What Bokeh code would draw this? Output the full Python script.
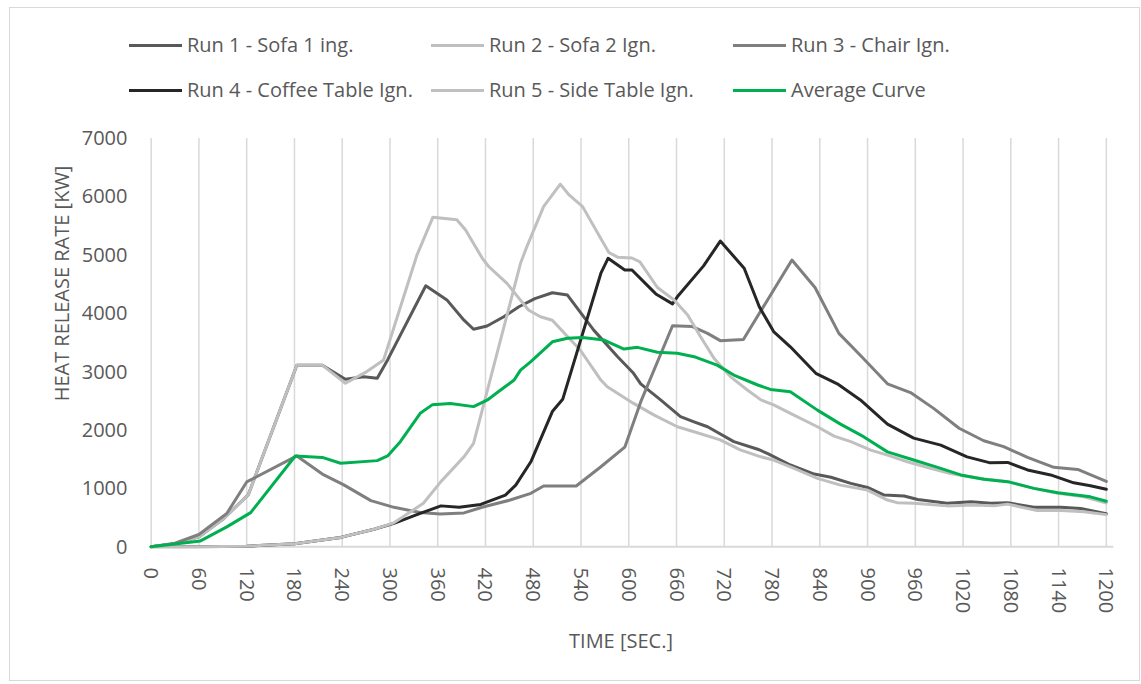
from bokeh.plotting import figure
from bokeh.models import Range1d, FixedTicker, Legend, LegendItem
from bokeh.embed import file_html
from bokeh.resources import INLINE

# ---- data (time [s], heat release rate [kW]) ----
R1_T = [0, 30, 60, 90, 122, 183, 215, 244, 267, 284, 297, 345, 372, 393, 405, 422, 443, 462, 482, 504,
        523, 556, 586, 606, 615, 640, 665, 682, 699, 732, 762, 774, 803, 833, 854, 879, 900, 921, 946, 963,
        1000, 1030, 1055, 1076, 1109, 1143, 1168, 1200]
R1_V = [0, 50, 170, 470, 890, 3110, 3110, 2870, 2910, 2885, 3200, 4470, 4220, 3880, 3725, 3780, 3940, 4110, 4250, 4350,
        4310, 3710, 3255, 2970, 2790, 2515, 2230, 2140, 2055, 1800, 1670, 1600, 1400, 1245, 1190, 1085, 1015, 885, 870, 810,
        745, 770, 745, 755, 675, 675, 655, 565]

R2_T = [0, 30, 60, 90, 122, 183, 215, 244, 271, 292, 334, 354, 384, 395, 416, 424, 447, 474, 489, 504,
        523, 539, 565, 573, 606, 632, 661, 682, 715, 740, 753, 766, 782, 807, 837, 866, 900, 925, 937, 958,
        1000, 1034, 1059, 1076, 1113, 1143, 1172, 1200]
R2_V = [0, 50, 170, 470, 890, 3110, 3110, 2800, 3000, 3200, 5000, 5645, 5600, 5425, 4940, 4800, 4510, 4055, 3940, 3880,
        3600, 3370, 2855, 2740, 2455, 2255, 2055, 1970, 1830, 1660, 1600, 1540, 1485, 1345, 1170, 1055, 970, 800, 755, 745,
        700, 715, 700, 730, 620, 620, 600, 550]

R3_T = [0, 30, 60, 95, 120, 183, 215, 242, 276, 305, 338, 363, 393, 418, 451, 477, 493, 534, 565, 595,
        615, 655, 680, 699, 715, 744, 805, 834, 864, 893, 925, 954, 983, 1015, 1046, 1071, 1101, 1134, 1164, 1200]
R3_V = [0, 60, 210, 570, 1110, 1555, 1245, 1060, 790, 675, 585, 560, 580, 685, 800, 915, 1040, 1040, 1370, 1705,
        2480, 3785, 3770, 3655, 3530, 3550, 4910, 4440, 3655, 3250, 2790, 2640, 2370, 2030, 1815, 1715, 1530, 1360, 1325, 1120]

R4_T = [0, 60, 120, 180, 238, 280, 305, 338, 364, 387, 414, 445, 458, 477, 504, 517, 565, 574, 595, 604,
        634, 655, 661, 694, 715, 745, 764, 782, 803, 835, 862, 891, 925, 958, 992, 1025, 1053, 1076, 1101, 1130,
        1159, 1180, 1200]
R4_V = [0, 0, 10, 50, 160, 300, 400, 570, 700, 675, 725, 885, 1055, 1455, 2315, 2525, 4685, 4940, 4740, 4740,
        4330, 4160, 4280, 4810, 5235, 4770, 4110, 3685, 3425, 2970, 2790, 2515, 2100, 1860, 1740, 1540, 1440, 1445, 1315, 1230,
        1095, 1045, 985]

R5_T = [0, 60, 120, 180, 238, 280, 305, 342, 364, 393, 405, 464, 472, 493, 514, 525, 542, 560, 575, 586,
        604, 614, 636, 657, 674, 690, 707, 728, 749, 766, 782, 805, 837, 858, 879, 904, 925, 950, 979, 1004,
        1042, 1076, 1109, 1139, 1172, 1200]
R5_V = [0, 0, 10, 50, 160, 300, 410, 745, 1115, 1540, 1770, 4855, 5140, 5825, 6210, 6025, 5825, 5395, 5040, 4960,
        4945, 4880, 4440, 4225, 3970, 3600, 3230, 2910, 2685, 2515, 2430, 2270, 2055, 1895, 1800, 1655, 1570, 1455, 1345, 1255,
        1170, 1115, 1000, 915, 855, 750]

AVG_T = [0, 62, 95, 125, 181, 215, 238, 284, 297, 313, 338, 353, 376, 405, 422, 439, 456, 464, 477, 504,
         523, 542, 569, 594, 611, 636, 661, 682, 711, 732, 762, 778, 803, 837, 866, 895, 925, 958, 988, 1017,
         1046, 1076, 1109, 1139, 1180, 1200]
AVG_V = [0, 100, 340, 585, 1555, 1530, 1430, 1475, 1555, 1800, 2285, 2430, 2455, 2400, 2510, 2685, 2855, 3025, 3170, 3510,
         3570, 3585, 3540, 3385, 3415, 3330, 3315, 3255, 3110, 2940, 2770, 2695, 2655, 2340, 2100, 1885, 1625, 1485, 1360, 1230,
         1155, 1115, 1000, 925, 855, 780]

SERIES_NAMES = ["Run 1 - Sofa 1 ing.", "Run 2 - Sofa 2 Ign.", "Run 3 - Chair Ign.",
                "Run 4 - Coffee Table Ign.", "Run 5 - Side Table Ign.", "Average Curve"]
SERIES_COLORS = ["#595959", "#bfbfbf", "#7f7f7f", "#262626", "#c0c0c0", "#00b050"]
X_TICKS = list(range(0, 1201, 60))
Y_TICKS = list(range(0, 7001, 1000))
X_AXIS_END = 1209          # the category axis line runs a little past the last tick
Y_MAX = 7000

FONT = "Open Sans"
TXT = "#595959"
GRID = "#d9d9d9"

# frame is extended upward / leftward so the legend (drawn inside the frame) is not clipped
p = figure(width=1129, height=672, output_backend="svg", toolbar_location=None,
           x_range=Range1d(-28.5, X_AXIS_END), y_range=Range1d(-30, 9047),
           frame_width=985, frame_height=530,
           min_border_left=118, min_border_right=26, min_border_top=10, min_border_bottom=132)
p.styles = {"margin-left": "9px", "margin-top": "7px", "border": "1px solid #d9d9d9"}
p.outline_line_color = None
p.background_fill_color = "white"
p.border_fill_color = "white"
p.xgrid.grid_line_color = None
p.ygrid.grid_line_color = None

# axes
p.xaxis.ticker = FixedTicker(ticks=X_TICKS)
p.yaxis.ticker = FixedTicker(ticks=Y_TICKS)
p.xaxis.major_label_orientation = "vertical"
for ax in (p.xaxis, p.yaxis):
    ax.major_tick_line_color = None
    ax.minor_tick_line_color = None
    ax.major_tick_out = 0
    ax.major_tick_in = 0
    ax.minor_tick_out = 0
    ax.minor_tick_in = 0
    ax.axis_line_color = None
    ax.major_label_text_font = FONT
    ax.major_label_text_font_size = "20px"
    ax.major_label_text_color = TXT
    ax.axis_label_text_font = FONT
    ax.axis_label_text_font_size = "20px"
    ax.axis_label_text_color = TXT
    ax.axis_label_text_font_style = "normal"
p.xaxis.major_label_standoff = 19
p.yaxis.major_label_standoff = 1
p.xaxis.axis_label = "TIME [SEC.]"
p.yaxis.axis_label = "HEAT RELEASE RATE [KW]"
p.xaxis.axis_label_standoff = 11
p.yaxis.axis_label_standoff = 4

# vertical gridlines (0 .. 7000) and the horizontal category axis line at 0
p.segment(x0=X_TICKS, y0=[0] * len(X_TICKS), x1=X_TICKS, y1=[Y_MAX] * len(X_TICKS),
          line_color=GRID, line_width=1.5)
p.segment(x0=[X_TICKS[0]], y0=[0], x1=[X_AXIS_END], y1=[0], line_color=GRID, line_width=2)

ts = [R1_T, R2_T, R3_T, R4_T, R5_T, AVG_T]
vs = [R1_V, R2_V, R3_V, R4_V, R5_V, AVG_V]
items = []
for name, col, t, v in zip(SERIES_NAMES, SERIES_COLORS, ts, vs):
    r = p.line(t, v, line_color=col, line_width=3, line_join="round", line_cap="round")
    items.append(LegendItem(label=name, renderers=[r]))

legend = Legend(items=items, orientation="horizontal", nrows=2,
                location=(1, 438), glyph_width=53, glyph_height=20,
                label_standoff=5, label_width=240, label_height=41, spacing=4,
                padding=0, margin=0, border_line_color=None, background_fill_alpha=0,
                label_text_font=FONT, label_text_font_size="20px", label_text_color=TXT)
p.add_layout(legend, "center")

open("out.html", "w").write(file_html(p, INLINE))
